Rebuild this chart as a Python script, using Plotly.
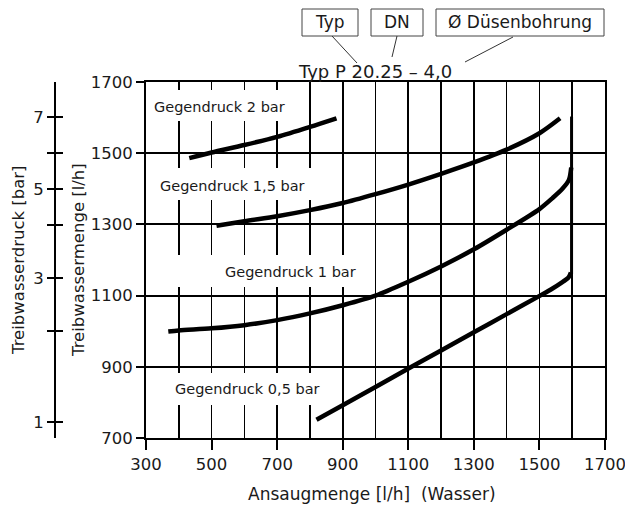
import plotly.graph_objects as go

# ---------------- data ----------------
# Gegendruck 2 bar
p20_x = [432, 500, 600, 700, 800, 881]
p20_y = [1486, 1502, 1523, 1546, 1574, 1598]
# Gegendruck 1,5 bar
p15_x = [515, 600, 700, 800, 900, 1000, 1100, 1200, 1300, 1400, 1500, 1563]
p15_y = [1296, 1309, 1323, 1340, 1360, 1385, 1412, 1442, 1474, 1510, 1556, 1598]
# Gegendruck 1 bar
p10_x = [368, 400, 500, 600, 700, 800, 900, 1000, 1100, 1200, 1300, 1400, 1500, 1540, 1570, 1590, 1597]
p10_y = [999, 1002, 1008, 1017, 1031, 1050, 1073, 1100, 1139, 1182, 1230, 1285, 1343, 1374, 1400, 1425, 1460]
# Gegendruck 0,5 bar
p05_x = [820, 900, 1000, 1110, 1200, 1300, 1400, 1502, 1540, 1570, 1588, 1596]
p05_y = [751, 792, 843, 900, 946, 997, 1048, 1100, 1120, 1138, 1150, 1165]
# vertical limit line
limit_x = [1598, 1598]
limit_y = [1160, 1603]

curve_labels = ["Gegendruck 2 bar", "Gegendruck 1,5 bar", "Gegendruck 1 bar", "Gegendruck 0,5 bar"]

x_ticks = [300, 500, 700, 900, 1100, 1300, 1500, 1700]
y_ticks = [700, 900, 1100, 1300, 1500, 1700]
# pressure scale (bar) and the flow value it sits at
pressure_flow = [745, 1001, 1149, 1298, 1400, 1500, 1602]
pressure_text = ["1", "", "3", "", "5", "", "7"]

# ---------------- layout helpers (window pixels -> paper) ----------------
W, H = 625, 506
ML, MR, MT, MB = 0, 20, 82, 68
def fx(px):
    return (px - ML) / (W - ML - MR)
def fy(py):
    return (H - MB - py) / (H - MT - MB)

FONT = "DejaVu Sans"
BLACK = "#000000"
TXT = "#1a1a1a"

fig = go.Figure()
for xs, ys in [(p20_x, p20_y), (p15_x, p15_y), (p10_x, p10_y), (p05_x, p05_y)]:
    fig.add_trace(go.Scatter(x=xs, y=ys, mode="lines",
                             line=dict(color=BLACK, width=4.5, shape="spline", smoothing=0.8),
                             showlegend=False, hoverinfo="skip"))
fig.add_trace(go.Scatter(x=limit_x, y=limit_y, mode="lines",
                         line=dict(color=BLACK, width=3), showlegend=False, hoverinfo="skip"))
# carriers for the pressure axis
for ax in ["y2", "y3"]:
    fig.add_trace(go.Scatter(x=[300, 300], y=[700, 1700], yaxis=ax, mode="lines",
                             line=dict(width=0, color="rgba(0,0,0,0)"),
                             showlegend=False, hoverinfo="skip"))

shapes = []
# white boxes behind the curve labels
label_boxes = [(148, 90, 300, 121), (148, 168, 322, 200), (170, 255, 362, 287), (170, 373, 332, 405)]
for x0, y0, x1, y1 in label_boxes:
    shapes.append(dict(type="rect", xref="paper", yref="paper",
                       x0=fx(x0), x1=fx(x1), y0=fy(y1), y1=fy(y0),
                       fillcolor="white", line=dict(width=0), layer="above"))
# header boxes
head_boxes = [(302, 9, 358, 36), (371, 9, 423, 36), (436, 9, 604, 36)]
for x0, y0, x1, y1 in head_boxes:
    shapes.append(dict(type="rect", xref="paper", yref="paper",
                       x0=fx(x0), x1=fx(x1), y0=fy(y1), y1=fy(y0),
                       fillcolor="white", line=dict(width=1, color="#444444")))
leaders = [(332, 36, 357, 63), (397, 36, 392, 57), (513, 37, 465, 62)]
for x0, y0, x1, y1 in leaders:
    shapes.append(dict(type="line", xref="paper", yref="paper",
                       x0=fx(x0), x1=fx(x1), y0=fy(y0), y1=fy(y1),
                       line=dict(width=1, color="#333333")))

annotations = []
label_pos = [(152, 107), (158, 186), (223, 272), (173, 389)]
for txt, (px, py) in zip(curve_labels, label_pos):
    annotations.append(dict(text=txt, xref="paper", yref="paper", x=fx(px), y=fy(py),
                            xanchor="left", yanchor="middle", showarrow=False,
                            font=dict(family=FONT, size=14.5, color=TXT)))
head_text = [("Typ", 330), ("DN", 397), ("Ø Düsenbohrung", 520)]
for txt, px in head_text:
    annotations.append(dict(text=txt, xref="paper", yref="paper", x=fx(px), y=fy(22.5),
                            xanchor="center", yanchor="middle", showarrow=False,
                            font=dict(family=FONT, size=17, color=TXT)))
annotations.append(dict(text="Typ P 20.25 – 4,0", xref="paper", yref="paper", x=fx(375), y=fy(71),
                        xanchor="center", yanchor="middle", showarrow=False,
                        font=dict(family=FONT, size=18, color=TXT)))
annotations.append(dict(text="Ansaugmenge [l/h]\u00a0 (Wasser)", xref="paper", yref="paper",
                        x=fx(372), y=fy(494), xanchor="center", yanchor="middle", showarrow=False,
                        font=dict(family=FONT, size=17, color=TXT)))
annotations.append(dict(text="Treibwassermenge [l/h]", xref="paper", yref="paper",
                        x=fx(78), y=fy(260), textangle=-90, xanchor="center", yanchor="middle",
                        showarrow=False, font=dict(family=FONT, size=16.5, color=TXT)))
annotations.append(dict(text="Treibwasserdruck [bar]", xref="paper", yref="paper",
                        x=fx(18), y=fy(260), textangle=-90, xanchor="center", yanchor="middle",
                        showarrow=False, font=dict(family=FONT, size=16.5, color=TXT)))

tickfont = dict(family=FONT, size=16.5, color=TXT)

fig.update_layout(
    width=W, height=H,
    margin=dict(l=ML, r=MR, t=MT, b=MB, pad=0),
    paper_bgcolor="white", plot_bgcolor="white",
    shapes=shapes, annotations=annotations,
    xaxis=dict(domain=[fx(146), 1], range=[300, 1700], tickmode="array", tickvals=x_ticks,
               ticks="outside", ticklen=10, tickwidth=2, tickcolor=BLACK,
               showline=True, linewidth=2, linecolor=BLACK, mirror=True,
               showgrid=True, gridcolor=BLACK, gridwidth=1.6,
               minor=dict(dtick=100, tick0=300, showgrid=True, gridcolor=BLACK, gridwidth=1.6, ticks=""),
               tickfont=tickfont, ticklabeloverflow="allow", zeroline=False,
               automargin=False, fixedrange=True),
    yaxis=dict(domain=[0, 1], range=[700, 1700], tickmode="array", tickvals=y_ticks,
               ticks="outside", ticklen=8, tickwidth=2, tickcolor=BLACK,
               showline=True, linewidth=2, linecolor=BLACK, mirror=True,
               showgrid=True, gridcolor=BLACK, gridwidth=2,
               tickfont=tickfont, zeroline=False, automargin=False, fixedrange=True),
    yaxis2=dict(overlaying="y", anchor="free", position=fx(55), side="left",
                range=[700, 1700], tickmode="array", tickvals=pressure_flow, ticktext=pressure_text,
                ticks="outside", ticklen=7, tickwidth=2, tickcolor=BLACK,
                showline=True, linewidth=2, linecolor=BLACK, showgrid=False, zeroline=False,
                tickfont=tickfont, automargin=False, fixedrange=True),
    yaxis3=dict(overlaying="y", anchor="free", position=fx(55), side="left",
                range=[700, 1700], tickmode="array", tickvals=pressure_flow,
                ticks="inside", ticklen=7, tickwidth=2, tickcolor=BLACK,
                showticklabels=False, showline=False, showgrid=False, zeroline=False,
                automargin=False, fixedrange=True),
)

fig.write_html("out.html", config={"displayModeBar": False, "staticPlot": True},
               post_script="document.body.style.margin='0';document.body.style.overflow='hidden';")
